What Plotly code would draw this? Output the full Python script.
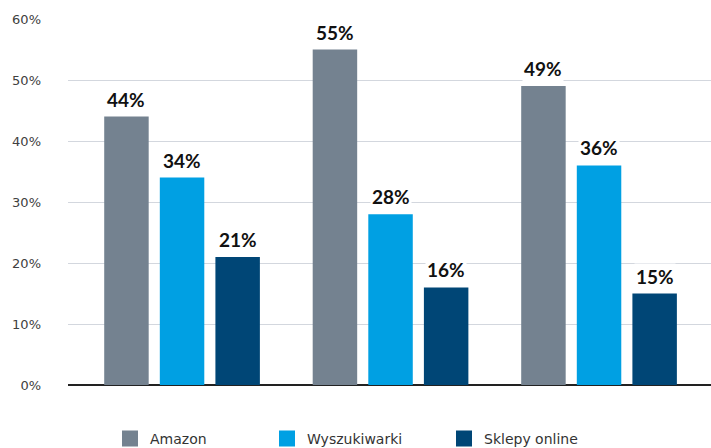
import plotly.graph_objects as go

# Survey data: share of respondents per channel, in three groups
groups = [0, 1, 2]
series_names = ["Amazon", "Wyszukiwarki", "Sklepy online"]
amazon = [44, 55, 49]
wyszukiwarki = [34, 28, 36]
sklepy = [21, 16, 15]
colors = ["#748290", "#00a0e3", "#004676"]
y_ticks = [0, 10, 20, 30, 40, 50, 60]
y_tick_labels = [f"{v}%" for v in y_ticks]

values = [amazon, wyszukiwarki, sklepy]
FONT = "'DejaVu Sans', sans-serif"
LABEL_FONT = "Lato, sans-serif"

fig = go.Figure()
for name, vals, col in zip(series_names, values, colors):
    fig.add_trace(go.Bar(
        x=groups, y=vals, name=name, marker_color=col,
        marker_line_width=0, showlegend=False,
    ))

# One legend box per series so each entry sits at its own position
legend_ids = ["legend", "legend2", "legend3"]
legend_left_px = [110, 267, 444]
for name, col, lid in zip(series_names, colors, legend_ids):
    fig.add_trace(go.Scatter(
        x=[None], y=[None], mode="markers", name=name, legend=lid,
        marker=dict(symbol="square", size=16, color=col),
    ))

# Value labels above each bar, on a white background
n = len(series_names)
bargap = 0.2
bargroupgap = 0.2
group_w = 1 - bargap
slot = group_w / n
annotations = []
for i, vals in enumerate(values):
    for g, v in zip(groups, vals):
        xc = g - group_w / 2 + slot * (i + 0.5)
        annotations.append(dict(
            x=xc, y=v, xref="x", yref="y", text=f"<b>{v}%</b>",
            showarrow=False, yanchor="bottom", yshift=4,
            font=dict(family=LABEL_FONT, size=19, color="#111111"),
            bgcolor="white", borderpad=1,
        ))

plot_left, plot_w = 68, 643
legend_style = dict(font=dict(family=FONT, size=14, color="#333333"),
                    itemwidth=30, y=-0.147, yanchor="middle", xanchor="left",
                    bgcolor="rgba(0,0,0,0)")
legends = {lid: dict(x=(px - plot_left) / plot_w, **legend_style)
           for lid, px in zip(legend_ids, legend_left_px)}

fig.update_layout(
    width=711, height=448,
    margin=dict(l=plot_left, r=0, t=19, b=63, autoexpand=False),
    paper_bgcolor="white", plot_bgcolor="white",
    barmode="group", bargap=bargap, bargroupgap=bargroupgap,
    font=dict(family=FONT, size=13, color="#404040"),
    xaxis=dict(range=[-0.547, 2.537], showticklabels=False, showgrid=False,
               zeroline=False, showline=False, fixedrange=True),
    yaxis=dict(range=[0, 60], tickvals=y_ticks, ticktext=y_tick_labels,
               showgrid=True, gridcolor="#d3d7de", gridwidth=1.2,
               zeroline=True, zerolinecolor="#222222", zerolinewidth=1.5,
               ticks="", ticklabelstandoff=26,
               tickfont=dict(family=FONT, size=13, color="#404040")),
    annotations=annotations,
    **legends,
)

fig.write_html("out.html")
